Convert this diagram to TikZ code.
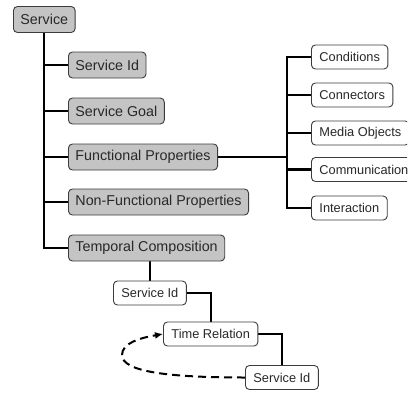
\documentclass[tikz,border=0pt]{standalone}
\usepackage{fontspec}
\setmainfont{Liberation Sans}
\usetikzlibrary{arrows.meta}
\pgfdeclarelayer{background}
\pgfsetlayers{background,main}
\definecolor{boxgray}{RGB}{196,196,196}
\definecolor{edgegray}{RGB}{60,60,60}
\definecolor{txt}{RGB}{40,40,40}
\begin{document}
\begin{tikzpicture}[x=1pt,y=-1pt,
  graybox/.style={draw=edgegray, line width=0.9pt, fill=boxgray, rounded corners=4pt,
    anchor=west, inner xsep=7pt, inner ysep=0pt, minimum height=26pt,
    font=\fontsize{14.3}{16}\selectfont, text=txt},
  whitebox/.style={draw=edgegray, line width=0.9pt, fill=white, rounded corners=4pt,
    anchor=west, inner xsep=8pt, inner ysep=0pt, minimum height=24pt,
    font=\fontsize{12.8}{14}\selectfont, text=txt},
  link/.style={line width=2.3pt, black},
  dashlink/.style={line width=2pt, black, dash pattern=on 8pt off 5pt, -{Latex[length=8pt,width=7pt]}}
]
\useasboundingbox (0,0) rectangle (407,415);
\clip (0,0) rectangle (407,415);

% nodes
\node[graybox] (svc) at (13,19.5) {Service};
\node[graybox] (sid) at (68,65) {Service Id};
\node[graybox] (sgoal) at (68,111) {Service Goal};
\node[graybox] (fp) at (68,157) {Functional Properties};
\node[graybox] (nfp) at (68,202) {Non-Functional Properties};
\node[graybox] (tc) at (68,248) {Temporal Composition};

\node[whitebox] (cond) at (311,57) {Conditions};
\node[whitebox] (conn) at (311,95) {Connectors};
\node[whitebox] (media) at (311,133) {Media Objects};
\node[whitebox] (comm) at (311,169.5) {Communication};
\node[whitebox] (inter) at (311,208) {Interaction};

\node[whitebox] (sid2) at (113,293) {Service Id};
\node[whitebox] (tr) at (163,334) {Time Relation};
\node[whitebox] (sid3) at (245,377.5) {Service Id};

\coordinate (br) at (287,157);
\coordinate (bend) at (122,355);

\begin{pgfonlayer}{background}
% trunk
\draw[link] (svc.south) |- (tc.west);
\draw[link] (svc.south) |- (sid.west);
\draw[link] (svc.south) |- (sgoal.west);
\draw[link] (svc.south) |- (fp.west);
\draw[link] (svc.south) |- (nfp.west);

% functional branch
\draw[link] (fp.east) -- (br);
\draw[link] (br) |- (cond.west);
\draw[link] (br) |- (conn.west);
\draw[link] (br) |- (media.west);
\draw[link] (br) |- (comm.west);
\draw[link] (br) |- (inter.west);

% temporal composition
\draw[link] (tc.south -| sid2.north) -- (sid2.north);
\draw[link] (sid2.east) -| (tr.north);
\draw[link] (tr.east) -| (sid3.north);
\end{pgfonlayer}

% dashed relation
\draw[dashlink] (sid3.west) .. controls (170,377.5) and (122,372) .. (bend)
  .. controls (122,343) and (140,338) .. (tr.west);
\end{tikzpicture}
\end{document}
